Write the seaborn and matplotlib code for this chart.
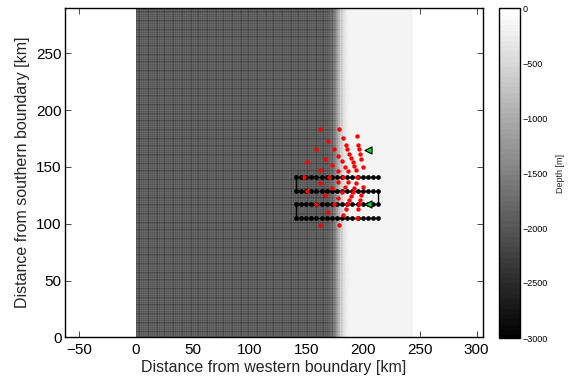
import numpy as np
import pandas as pd
import matplotlib
matplotlib.use("Agg")
import matplotlib.pyplot as plt
from matplotlib.colors import ListedColormap
import seaborn as sns

sns.set_style("white")
plt.rcParams['font.family'] = ['Liberation Sans', 'DejaVu Sans']

# bathymetry columns, one value every 2 km from the western boundary [m]
depth_profile = [-2300] * 85 + [-2200, -2050, -1800, -1450, -1050, -700, -450, -300, -220, -180] + [-160] * 27
cell_km = 2.0
north_km = 290

# red stations
red_x = [162.0, 179.0, 194.3, 182.3, 169.4, 184.6, 195.8, 158.2, 174.1, 185.8, 196.6, 187.6, 197.2,
         178.2, 166.4, 189.0, 198.4, 181.1, 150.9, 190.8, 172.3, 184.0, 192.0, 199.9, 193.7, 161.7,
         177.6, 187.0, 148.2, 170.2, 182.3, 194.9,
         162.0, 179.0, 194.3, 182.3, 169.4, 184.6, 195.8, 158.2, 174.1, 185.8, 196.6, 187.6, 197.2,
         178.2, 166.4, 189.0, 198.4, 181.1, 150.9, 190.8, 172.3, 184.0, 192.0, 199.9, 193.7, 161.7,
         177.6, 187.0]
red_y = [183.4, 183.4, 177.2, 175.2, 172.5, 169.6, 169.6, 165.5, 165.5, 165.5, 165.5, 161.7, 161.7,
         159.6, 157.3, 158.1, 157.3, 154.9, 154.0, 154.6, 151.4, 150.2, 151.1, 149.9, 147.0, 147.0,
         146.1, 146.1, 141.4, 141.4, 141.4, 141.4,
         99.2, 99.2, 105.4, 107.4, 110.1, 113.0, 113.0, 117.1, 117.1, 117.1, 117.1, 120.9, 120.9,
         123.0, 125.3, 124.5, 125.3, 127.7, 128.6, 128.0, 131.2, 132.4, 131.5, 132.7, 135.6, 135.6,
         136.5, 136.5]

# black survey track stations
track_stations = [140.7, 145.2, 149.8, 154.3, 158.8, 163.4, 167.9, 172.4, 177.0, 181.5, 186.0,
                  190.6, 195.1, 199.6, 204.2, 208.7, 213.2]
track_lines = [141.0, 129.0, 117.0, 105.0]

# green moorings
green_x = [204.7, 204.7]
green_y = [165.0, 117.0]

W, H = 570, 379
fig = plt.figure(figsize=(W / 100, H / 100), dpi=100)
def px_axes(l, t, r, b):
    return fig.add_axes([l / W, 1 - b / H, (r - l) / W, (b - t) / H])

ax = px_axes(65, 8, 482.7, 337.3)
cax = px_axes(498.5, 8, 519.5, 338)

cmap = ListedColormap(plt.get_cmap("gray")(np.linspace(0, 1, 64)))
n_rows = int(north_km / cell_km)
x_edges = np.arange(len(depth_profile) + 1) * cell_km
y_edges = np.arange(n_rows + 1) * cell_km
Z = np.tile(np.array(depth_profile, float), (n_rows, 1))
mesh = ax.pcolormesh(x_edges, y_edges, Z, cmap=cmap, vmin=-3000, vmax=0,
                     edgecolors="white", linewidth=0.1, antialiased=True, zorder=1)

rows = []
for i, yv in enumerate(track_lines):
    xs = track_stations[::-1] if i % 2 == 0 else track_stations
    rows += [(x, yv) for x in xs]
track = pd.DataFrame(rows, columns=["x", "y"])
sns.lineplot(data=track, x="x", y="y", sort=False, estimator=None, color="black", lw=1.0,
             marker="o", markersize=3.4, markeredgewidth=0, ax=ax, zorder=3)
sns.scatterplot(x=red_x, y=red_y, color="#ff0000", s=10, linewidth=0, ax=ax, zorder=4)
sns.scatterplot(x=green_x, y=green_y, color="#00dd22", marker="<", s=26, edgecolor="black",
                linewidth=0.8, ax=ax, zorder=5)

ax.set_xlim(-62.5, 305.3)
ax.set_ylim(0, 290)
ax.set_xticks([-50, 0, 50, 100, 150, 200, 250, 300])
ax.set_yticks([0, 50, 100, 150, 200, 250])
ax.tick_params(direction="in", top=True, right=True, bottom=True, left=True, length=4, width=0.5,
               labelsize=11, colors="black")
ax.tick_params(axis="x", pad=4)
ax.tick_params(axis="y", pad=2.5)
ax.set_xlabel("Distance from western boundary [km]", fontsize=11.5, labelpad=2)
ax.set_ylabel("Distance from southern boundary [km]", fontsize=11.5, labelpad=4)
for s in ax.spines.values():
    s.set_visible(True)
    s.set_linewidth(1.0)
    s.set_color("black")
ax.grid(False)

cb = fig.colorbar(mesh, cax=cax)
cb.set_ticks([0, -500, -1000, -1500, -2000, -2500, -3000])
cb.ax.tick_params(direction="in", length=4, width=0.5, labelsize=6.5, pad=2, right=True, colors="black")
cb.set_label("Depth [m]", fontsize=6.5, labelpad=6)
cb.outline.set_linewidth(1.0)
cb.outline.set_edgecolor("black")
cb.solids.set_edgecolor("face")

fig.savefig("out.png", dpi=100)
